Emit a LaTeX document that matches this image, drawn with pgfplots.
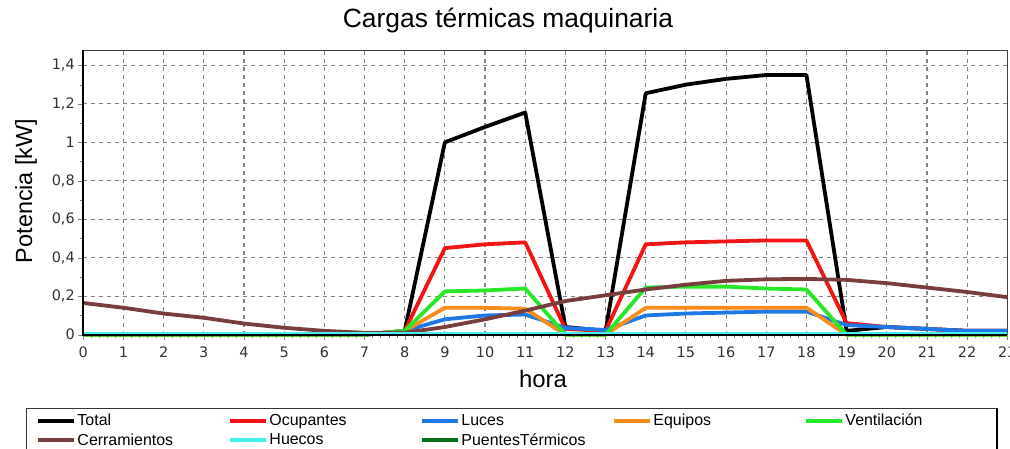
\documentclass[border=0pt]{standalone}
\usepackage{pgfplots}
\pgfplotsset{compat=1.18}
\usepackage{fontspec}
\setmainfont{Liberation Sans}
\newfontfamily\tickfont{DejaVu Sans}

\definecolor{cTotal}{RGB}{0,0,0}
\definecolor{cOcup}{RGB}{240,20,20}
\definecolor{cLuces}{RGB}{30,120,230}
\definecolor{cEquipos}{RGB}{250,140,30}
\definecolor{cVent}{RGB}{40,230,40}
\definecolor{cCerr}{RGB}{120,62,62}
\definecolor{cHuecos}{RGB}{70,240,240}
\definecolor{cPuentes}{RGB}{0,110,20}
\definecolor{gridgray}{RGB}{130,130,130}

\begin{document}
\begin{tikzpicture}
  \begin{axis}[
    scale only axis,
    width=924bp, height=284.7bp,
    xmin=0, xmax=23, ymin=0, ymax=1.48,
    xtick={0,...,23},
    ytick={0,0.2,...,1.4},
    minor x tick num=4,
    minor y tick num=1,
    xtick pos=left, ytick pos=left,
    tick align=outside,
    major tick length=5bp, minor tick length=3bp,
    grid=major,
    major grid style={gridgray, line width=1.1bp, dash pattern=on 4bp off 4bp},
    axis line style={black!75, line width=0.8bp},
    /pgf/number format/assume math mode=true,
    yticklabel style={/pgf/number format/.cd, fixed, use comma, precision=1},
    xticklabel style={yshift=-4bp},
    tick label style={font=\tickfont\fontsize{14.5}{17}\selectfont, text=black!80},
    title={Cargas térmicas maquinaria},
    title style={at={(0.4596,1.0597)}, anchor=base, font=\fontsize{26.5}{30}\selectfont},
    xlabel={hora},
    xlabel style={at={(0.4975,-0.1837)}, anchor=base, font=\fontsize{24}{28}\selectfont},
    ylabel={Potencia [kW]},
    ylabel style={at={(-0.062,0.505)}, anchor=center, font=\fontsize{23.5}{27}\selectfont},
    clip=false,
    legend columns=5,
    legend cell align=left,
    legend image code/.code={\draw[#1, line width=4.5bp] (0bp,0bp) -- (36bp,0bp);},
    legend style={at={(-0.0514,-0.275)}, anchor=north west, draw=none, fill=none,
      inner sep=0pt, column sep=0pt, row sep=4bp,
      font=\fontsize{16}{18}\selectfont,
      nodes={inner sep=1bp}},
    every axis plot/.append style={line width=3.8bp, line join=round},
  ]
    \addplot[cTotal] coordinates {(0,0) (1,0) (2,0) (3,0) (4,0) (5,0) (6,0) (7,0) (8,0.02) (9,1.0) (10,1.08) (11,1.155) (12,0.04) (13,0.02) (14,1.255) (15,1.30) (16,1.33) (17,1.35) (18,1.35) (19,0.02) (20,0.04) (21,0.03) (22,0.02) (23,0.02)};
    \addlegendentry{\makebox[149.5bp][l]{Total}}
    \addplot[cOcup] coordinates {(0,0) (1,0) (2,0) (3,0) (4,0) (5,0) (6,0) (7,0) (8,0.02) (9,0.45) (10,0.47) (11,0.48) (12,0.03) (13,0.02) (14,0.47) (15,0.48) (16,0.485) (17,0.49) (18,0.49) (19,0.06) (20,0.04) (21,0.03) (22,0.02) (23,0.02)};
    \addlegendentry{\makebox[149.5bp][l]{Ocupantes}}
    \addplot[cLuces] coordinates {(0,0) (1,0) (2,0) (3,0) (4,0) (5,0) (6,0) (7,0) (8,0.02) (9,0.08) (10,0.10) (11,0.105) (12,0.035) (13,0.025) (14,0.10) (15,0.11) (16,0.115) (17,0.12) (18,0.12) (19,0.05) (20,0.04) (21,0.03) (22,0.02) (23,0.02)};
    \addlegendentry{\makebox[149.5bp][l]{Luces}}
    \addplot[cEquipos] coordinates {(0,0) (1,0) (2,0) (3,0) (4,0) (5,0) (6,0) (7,0) (8,0.02) (9,0.14) (10,0.14) (11,0.135) (12,0) (13,0) (14,0.14) (15,0.14) (16,0.14) (17,0.14) (18,0.14) (19,0) (20,0) (21,0) (22,0) (23,0)};
    \addlegendentry{\makebox[149.5bp][l]{Equipos}}
    \addplot[cVent] coordinates {(0,0) (1,0) (2,0) (3,0) (4,0) (5,0) (6,0) (7,0) (8,0.02) (9,0.225) (10,0.23) (11,0.24) (12,0) (13,0) (14,0.245) (15,0.25) (16,0.25) (17,0.24) (18,0.235) (19,0) (20,0) (21,0) (22,0) (23,0)};
    \addlegendentry{\makebox[149.5bp][l]{Ventilación}}
    \addplot[cCerr] coordinates {(0,0.165) (1,0.14) (2,0.11) (3,0.088) (4,0.058) (5,0.036) (6,0.02) (7,0.01) (8,0.01) (9,0.04) (10,0.08) (11,0.125) (12,0.175) (13,0.205) (14,0.235) (15,0.26) (16,0.28) (17,0.288) (18,0.29) (19,0.285) (20,0.268) (21,0.245) (22,0.222) (23,0.195)};
    \addlegendentry{\makebox[149.5bp][l]{Cerramientos}}
    \addplot[cHuecos] coordinates {(0,0.004) (1,0.004) (2,0.004) (3,0.004) (4,0.004) (5,0.004) (6,0.004) (7,0.004) (8,0.004) (9,0.004) (10,0.004) (11,0.004) (12,0.004) (13,0.004) (14,0.004) (15,0.004) (16,0.004) (17,0.004) (18,0.004) (19,0.004) (20,0.004) (21,0.004) (22,0.004) (23,0.004)};
    \addlegendentry{\makebox[149.5bp][l]{Huecos}}
    \addplot[cPuentes, line width=1.5bp] coordinates {(0,0) (1,0) (2,0) (3,0) (4,0) (5,0) (6,0) (7,0) (8,0) (9,0) (10,0) (11,0) (12,0) (13,0) (14,0) (15,0) (16,0) (17,0) (18,0) (19,0) (20,0) (21,0) (22,0) (23,0)};
    \addlegendentry{\makebox[149.5bp][l]{PuentesTérmicos}}
    % heavier left and bottom axis lines
    \draw[black, line width=2.2bp] (rel axis cs:0,1) -- (rel axis cs:0,0) -- (rel axis cs:1,0);
  \end{axis}
  % legend frame, cut by the page edge like the original
  \draw[black!80, line width=1bp] (-56.8bp,-130bp) -- (-56.8bp,-73.3bp) -- (913.7bp,-73.3bp);
  \draw[black, line width=2.5bp] (913.7bp,-73.3bp) -- (913.7bp,-130bp);
  \pgfresetboundingbox
  \useasboundingbox (-83.3bp,-114.3bp) rectangle (926.7bp,334.7bp);
\end{tikzpicture}
\end{document}
